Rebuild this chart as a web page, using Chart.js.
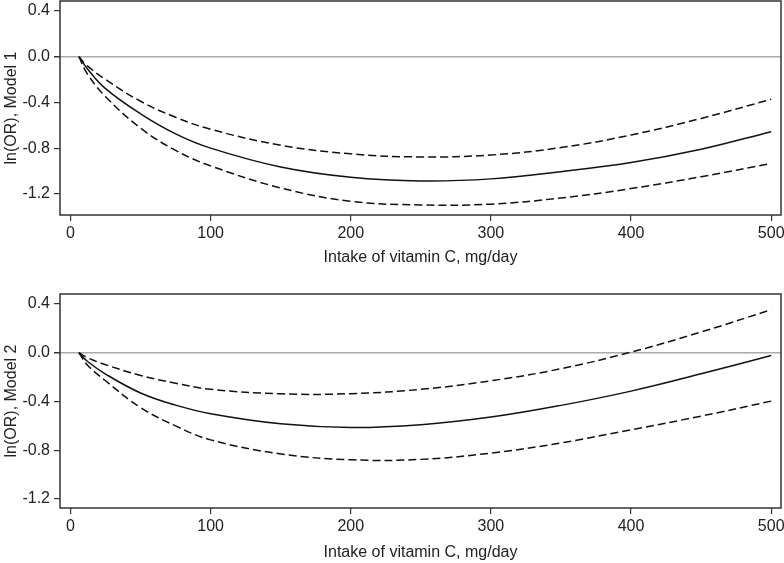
<!DOCTYPE html>
<html><head><meta charset="utf-8">
<script src="https://cdn.jsdelivr.net/npm/chart.js@4.4.0/dist/chart.umd.min.js"></script>
<style>
html,body{margin:0;padding:0;background:#fff;overflow:hidden;}
#w1{position:absolute;left:0;top:0;width:784px;height:270px;}
#w2{position:absolute;left:0;top:270px;width:784px;height:293px;}
</style></head><body>
<div id="w1"><canvas id="c1"></canvas></div>
<div id="w2"><canvas id="c2"></canvas></div>
<script>
// Intake of vitamin C (mg/day)
const intake = [6, 12, 25, 50, 75, 100, 150, 200, 250, 300, 350, 400, 450, 500];
// Model 1: estimate, upper and lower confidence limits of ln(OR)
const model1Est   = [0, -0.105, -0.28, -0.50, -0.675, -0.80, -0.965, -1.055, -1.087, -1.069, -1.006, -0.926, -0.81, -0.656];
const model1Upper = [0, -0.08, -0.20, -0.39, -0.53, -0.635, -0.775, -0.85, -0.877, -0.86, -0.795, -0.685, -0.54, -0.373];
const model1Lower = [0, -0.15, -0.35, -0.625, -0.82, -0.955, -1.148, -1.265, -1.297, -1.29, -1.236, -1.154, -1.05, -0.935];
// Model 2
const model2Est   = [0, -0.07, -0.175, -0.33, -0.43, -0.50, -0.583, -0.613, -0.59, -0.528, -0.432, -0.315, -0.173, -0.022];
const model2Upper = [0, -0.04, -0.098, -0.186, -0.25, -0.30, -0.337, -0.336, -0.30, -0.23, -0.131, 0.005, 0.17, 0.353];
const model2Lower = [0, -0.10, -0.23, -0.45, -0.60, -0.715, -0.83, -0.878, -0.875, -0.823, -0.74, -0.632, -0.52, -0.397];

const xTicks = [0, 100, 200, 300, 400, 500];
const yTicks = [0.4, 0.0, -0.4, -0.8, -1.2];
const xTitle = 'Intake of vitamin C, mg/day';
const yTitles = ['ln(OR), Model 1', 'ln(OR), Model 2'];

const FONT = 'Liberation Sans, Arial, Helvetica, sans-serif';
const TXT = '#222';
const LINE = '#111';

const framePlugin = {
  id: 'frame',
  afterDatasetsDraw(chart) {
    const a = chart.chartArea, ctx = chart.ctx;
    ctx.save();
    ctx.strokeStyle = '#333';
    ctx.lineWidth = 1.5;
    ctx.strokeRect(a.left, a.top, a.right - a.left, a.bottom - a.top);
    ctx.restore();
  }
};

function pts(ys) { return intake.map((x, i) => ({x: x, y: ys[i]})); }

function makeChart(id, est, up, lo, yTitle, yMin, yMax, pad, axisH, titleBottom) {
  const ds = (data, dash) => ({
    data: pts(data), borderColor: LINE, borderWidth: 1.5, borderDash: dash,
    pointRadius: 0, tension: 0.4, fill: false
  });
  return new Chart(document.getElementById(id), {
    type: 'line',
    data: { datasets: [ds(up, [8, 4]), ds(est, []), ds(lo, [8, 4])] },
    options: {
      responsive: true, maintainAspectRatio: false, animation: false,
      layout: { padding: pad },
      plugins: { legend: { display: false }, tooltip: { enabled: false } },
      scales: {
        x: {
          type: 'linear', min: -7.5, max: 507,
          afterBuildTicks(ax) { ax.ticks = xTicks.map(v => ({value: v})); },
          afterFit(ax) { ax.height = axisH; ax.paddingLeft = 0; ax.paddingRight = 0; },
          grid: { drawOnChartArea: false, drawTicks: true, tickLength: 6, tickColor: '#333', lineWidth: 1.2 },
          border: { display: false },
          ticks: { color: TXT, font: { family: FONT, size: 16 }, padding: 3, maxRotation: 0 },
          title: { display: true, text: xTitle, color: TXT, font: { family: FONT, size: 16 }, padding: { top: 0, bottom: titleBottom } }
        },
        y: {
          type: 'linear', min: yMin, max: yMax,
          afterBuildTicks(ax) { ax.ticks = yTicks.map(v => ({value: v})); },
          afterFit(ax) { ax.width = 60; ax.paddingTop = 0; ax.paddingBottom = 0; },
          grid: {
            drawOnChartArea: true, drawTicks: true, tickLength: 6, tickColor: '#333',
            color: c => (c.tick && c.tick.value === 0) ? '#aaaaaa' : 'rgba(0,0,0,0)',
            lineWidth: c => (c.tick && c.tick.value === 0) ? 1.5 : 1.2
          },
          border: { display: false },
          ticks: { color: TXT, font: { family: FONT, size: 16 }, padding: 4,
                   callback: v => v.toFixed(1) },
          title: { display: true, text: yTitle, color: TXT, font: { family: FONT, size: 16 }, padding: { top: 1.5, bottom: 0 } }
        }
      }
    },
    plugins: [framePlugin]
  });
}

makeChart('c1', model1Est, model1Upper, model1Lower, yTitles[0], -1.385, 0.487, { top: 1, right: 3, bottom: 0, left: 0 }, 55, 2.4);
makeChart('c2', model2Est, model2Upper, model2Lower, yTitles[1], -1.274, 0.482, { top: 24, right: 3, bottom: 0, left: 0 }, 55, 0.5);
</script>
</body></html>
